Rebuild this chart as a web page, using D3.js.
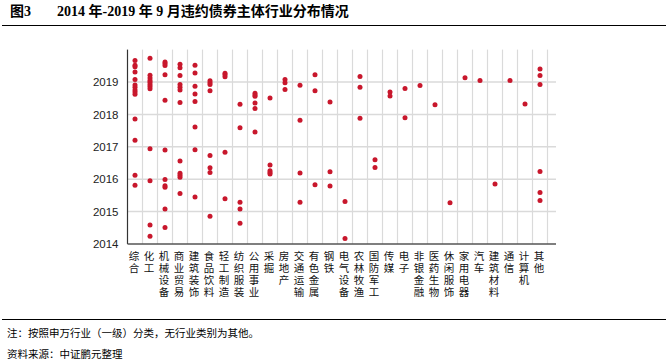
<!DOCTYPE html>
<html>
<head>
<meta charset="utf-8">
<script src="https://cdn.jsdelivr.net/npm/d3@7"></script>
<style>
  body { margin: 0; background: #fff; }
  svg { display: block; }
</style>
</head>
<body>
<script>
// industries (Shenwan level 1) and default dates (decimal years) per industry
var industries = ["综合", "化工", "机械设备", "商业贸易", "建筑装饰", "食品饮料", "轻工制造",
  "纺织服装", "公用事业", "采掘", "房地产", "交通运输", "有色金属", "钢铁", "电气设备",
  "农林牧渔", "国防军工", "传媒", "电子", "非银金融", "医药生物", "休闲服饰", "家用电器",
  "汽车", "建筑材料", "通信", "计算机", "其他"];

var defaultYears = [
  [2019.66, 2019.52, 2019.47, 2019.31, 2019.08, 2018.91, 2018.84, 2018.75, 2018.69, 2018.62, 2017.86, 2017.20, 2016.12, 2015.81],
  [2019.73, 2019.21, 2019.12, 2019.05, 2018.99, 2018.92, 2018.86, 2018.79, 2016.94, 2015.95, 2014.59, 2014.24],
  [2019.62, 2019.57, 2019.51, 2019.22, 2018.44, 2016.90, 2015.99, 2015.80, 2015.75, 2015.08, 2014.51],
  [2019.55, 2019.44, 2019.20, 2018.92, 2018.84, 2018.75, 2018.37, 2016.56, 2016.18, 2016.12, 2016.06, 2015.56],
  [2019.52, 2019.28, 2018.87, 2018.63, 2018.40, 2017.61, 2016.91, 2015.45],
  [2019.04, 2018.98, 2018.92, 2018.73, 2016.73, 2016.35, 2016.21, 2014.86],
  [2019.27, 2019.22, 2019.16, 2016.83, 2015.40],
  [2018.31, 2017.59, 2015.29, 2015.08, 2014.64],
  [2018.65, 2018.60, 2018.56, 2018.35, 2018.18, 2017.46],
  [2018.51, 2016.44, 2016.26, 2016.21, 2016.16],
  [2019.08, 2018.98, 2018.77],
  [2018.90, 2017.82, 2016.19, 2015.29],
  [2019.22, 2018.73, 2015.83],
  [2018.38, 2016.23, 2015.79],
  [2015.31, 2014.17],
  [2019.17, 2018.84, 2017.88],
  [2016.60, 2016.36],
  [2018.69, 2018.57],
  [2018.80, 2017.90],
  [2018.89],
  [2018.30],
  [2015.27],
  [2019.13],
  [2019.05],
  [2015.85],
  [2019.05],
  [2018.32],
  [2019.40, 2019.20, 2018.92, 2016.24, 2015.59, 2015.34]
];

var yearTicks = [2014, 2015, 2016, 2017, 2018, 2019];

function renderChart() {
  var width = 669, height = 363;
  var plotLeft = 127.5, plotRight = 556, plotTop = 49.6, plotBottom = 244;

  var svg = d3.select("body").append("svg")
    .attr("width", width)
    .attr("height", height);

  var x = d3.scaleBand()
    .domain(industries)
    .range([plotLeft, plotLeft + industries.length * 15]);

  var y = d3.scaleLinear()
    .domain([2014, 2020])
    .range([plotBottom, plotTop]);

  // title
  svg.append("text")
    .attr("x", 10).attr("y", 16)
    .style("font-family", "'Liberation Serif', 'Noto Sans CJK SC', serif")
    .style("font-weight", "bold")
    .style("font-size", "14px")
    .text("图3");
  svg.append("text")
    .attr("x", 57).attr("y", 16)
    .style("font-family", "'Liberation Serif', 'Noto Sans CJK SC', serif")
    .style("font-weight", "bold")
    .style("font-size", "14px")
    .text("2014 年-2019 年 9 月违约债券主体行业分布情况");

  svg.append("line")
    .attr("x1", 2).attr("x2", 666)
    .attr("y1", 25.5).attr("y2", 25.5)
    .style("stroke", "#000").style("stroke-width", 1.2);

  // grid
  var grid = svg.append("g");
  grid.selectAll(".hgrid")
    .data(yearTicks.slice(1))
    .enter().append("line")
    .attr("x1", plotLeft).attr("x2", plotRight)
    .attr("y1", function(d) { return y(d); })
    .attr("y2", function(d) { return y(d); })
    .style("stroke", "#dadada")
    .style("stroke-width", 1.5);

  grid.selectAll(".vgrid")
    .data(industries)
    .enter().append("line")
    .attr("x1", function(d) { return x(d) + x.bandwidth(); })
    .attr("x2", function(d) { return x(d) + x.bandwidth(); })
    .attr("y1", plotTop).attr("y2", plotBottom)
    .style("stroke", "#dadada")
    .style("stroke-width", 1.2);

  // axis lines
  svg.append("line")
    .attr("x1", plotLeft).attr("x2", plotLeft)
    .attr("y1", plotTop).attr("y2", plotBottom)
    .style("stroke", "#333").style("stroke-width", 1.2);
  svg.append("line")
    .attr("x1", plotLeft).attr("x2", plotRight)
    .attr("y1", plotBottom).attr("y2", plotBottom)
    .style("stroke", "#555").style("stroke-width", 1.5);

  // y labels
  var yAxis = d3.axisLeft(y).tickValues(yearTicks).tickFormat(d3.format("d")).tickSize(0).tickPadding(9);
  var ya = svg.append("g")
    .attr("transform", "translate(" + plotLeft + ",0)")
    .call(yAxis);
  ya.select(".domain").remove();
  ya.selectAll("text")
    .style("font-family", "'Liberation Sans', Arial, sans-serif")
    .style("font-size", "11.5px")
    .style("fill", "#222");

  // x labels, written top to bottom
  svg.append("g").selectAll("text")
    .data(industries)
    .enter().append("text")
    .attr("x", function(d) { return x(d) + x.bandwidth() / 2 - 1; })
    .attr("y", 251)
    .style("writing-mode", "vertical-rl")
    .style("text-orientation", "upright")
    .style("letter-spacing", "1.5px")
    .style("font-family", "'Noto Sans CJK SC', sans-serif")
    .style("font-size", "10.5px")
    .style("fill", "#111")
    .text(function(d) { return d; });

  // dots
  var points = [];
  industries.forEach(function(ind, i) {
    defaultYears[i].forEach(function(v) {
      points.push({ industry: ind, year: v });
    });
  });

  svg.append("g").selectAll("circle")
    .data(points)
    .enter().append("circle")
    .attr("cx", function(d) { return x(d.industry) + x.bandwidth() / 2; })
    .attr("cy", function(d) { return y(d.year); })
    .attr("r", 2.5)
    .style("fill", "#c8172c");

  // footnote
  svg.append("line")
    .attr("x1", 2).attr("x2", 666)
    .attr("y1", 319.5).attr("y2", 319.5)
    .style("stroke", "#000").style("stroke-width", 1.2);

  svg.append("text")
    .attr("x", 7).attr("y", 337)
    .style("font-family", "'Noto Sans CJK SC', sans-serif")
    .style("font-size", "10.5px")
    .text("注：按照申万行业（一级）分类，无行业类别为其他。");

  svg.append("text")
    .attr("x", 7).attr("y", 358)
    .style("font-family", "'Noto Sans CJK SC', sans-serif")
    .style("font-size", "10.5px")
    .text("资料来源：中证鹏元整理");
}

renderChart();
</script>
</body>
</html>
